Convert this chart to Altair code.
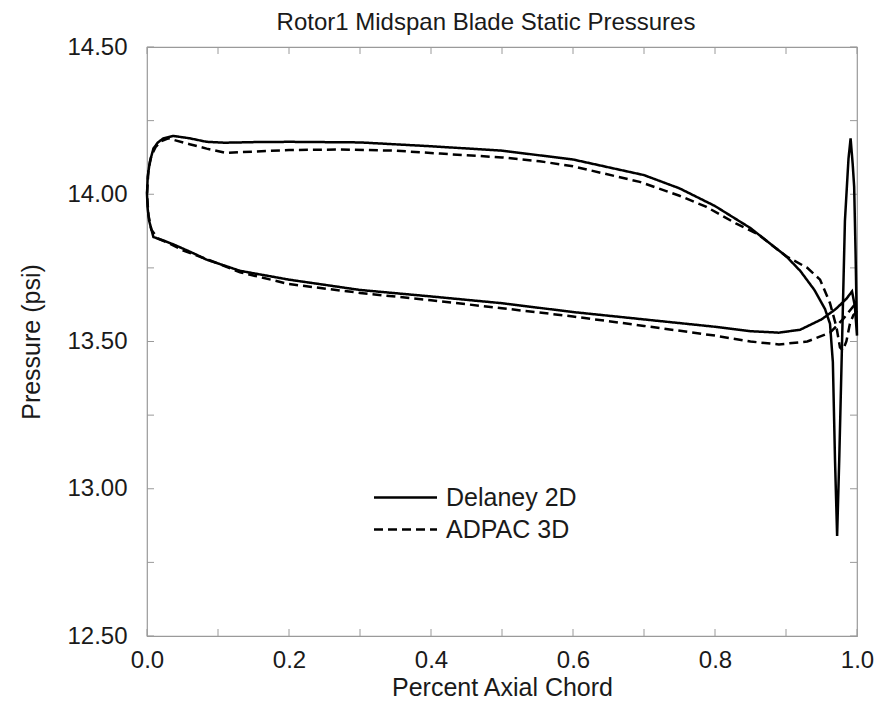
import altair as alt
import pandas as pd

# ---- data ----
chart_title = "Rotor1 Midspan Blade Static Pressures"
series_names = ["Delaney 2D", "ADPAC 3D"]

# Delaney 2D, upper (high pressure) surface from LE to TE incl. trailing-edge spike
del_up_x = [0.0, 0.001, 0.004, 0.009, 0.015, 0.023, 0.037, 0.06, 0.084, 0.11, 0.15, 0.2,
            0.3, 0.4, 0.5, 0.6, 0.7, 0.75, 0.8, 0.85, 0.9, 0.92, 0.94, 0.955, 0.962,
            0.966, 0.969, 0.972, 0.975, 0.978, 0.983, 0.988, 0.991, 0.994, 0.996, 0.998, 1.0]
del_up_y = [14.00, 14.06, 14.11, 14.155, 14.175, 14.19, 14.198, 14.19, 14.178, 14.175, 14.177, 14.178,
            14.176, 14.163, 14.148, 14.118, 14.065, 14.02, 13.96, 13.885, 13.79, 13.74, 13.675, 13.61, 13.56,
            13.43, 13.10, 12.84, 13.10, 13.40, 13.91, 14.12, 14.19, 14.10, 14.025, 13.80, 13.52]
# Delaney 2D, lower surface from LE to TE
del_lo_x = [0.0, 0.001, 0.003, 0.009, 0.023, 0.037, 0.065, 0.084, 0.131, 0.2, 0.3, 0.4, 0.5,
            0.6, 0.7, 0.8, 0.85, 0.89, 0.92, 0.95, 0.97, 0.985, 0.993, 0.997, 1.0]
del_lo_y = [14.00, 13.95, 13.91, 13.855, 13.843, 13.83, 13.80, 13.778, 13.74, 13.71, 13.675, 13.653, 13.63,
            13.60, 13.575, 13.55, 13.535, 13.53, 13.54, 13.575, 13.61, 13.645, 13.67, 13.62, 13.52]

# ADPAC 3D, upper surface
adp_up_x = [0.0, 0.002, 0.006, 0.012, 0.02, 0.03, 0.04, 0.06, 0.084, 0.112, 0.131, 0.2, 0.272,
            0.35, 0.413, 0.5, 0.553, 0.6, 0.694, 0.75, 0.788, 0.83, 0.86, 0.9, 0.93, 0.948,
            0.962, 0.971, 0.976, 0.98, 0.985, 0.99, 0.995, 1.0]
adp_up_y = [14.00, 14.08, 14.13, 14.16, 14.18, 14.19, 14.183, 14.17, 14.155, 14.14, 14.143, 14.15, 14.152,
            14.148, 14.138, 14.125, 14.112, 14.095, 14.042, 13.995, 13.957, 13.90, 13.865, 13.79, 13.75, 13.71,
            13.63, 13.55, 13.48, 13.47, 13.50, 13.56, 13.59, 13.60]
# ADPAC 3D, lower surface
adp_lo_x = [0.0, 0.002, 0.006, 0.015, 0.03, 0.05, 0.1, 0.131, 0.2, 0.3, 0.4, 0.5, 0.6, 0.7,
            0.8, 0.85, 0.89, 0.93, 0.962, 0.98, 0.995, 1.0]
adp_lo_y = [14.00, 13.93, 13.88, 13.85, 13.835, 13.81, 13.765, 13.735, 13.695, 13.665, 13.64, 13.613, 13.585, 13.553,
            13.52, 13.50, 13.49, 13.50, 13.53, 13.575, 13.62, 13.60]

x_tick_labels = [0.0, 0.2, 0.4, 0.6, 0.8, 1.0]
y_tick_labels = [12.5, 13.0, 13.5, 14.0, 14.5]
x_minor = [round(0.1 * i, 1) for i in range(11)]
y_minor = [12.5 + 0.25 * i for i in range(9)]

# ---- build closed loops: upper reversed (TE -> LE) then lower (LE -> TE) ----
rows = []
for name, ux, uy, lx, ly in [
    (series_names[0], del_up_x, del_up_y, del_lo_x, del_lo_y),
    (series_names[1], adp_up_x, adp_up_y, adp_lo_x, adp_lo_y),
]:
    px = list(reversed(ux)) + lx[1:]
    py = list(reversed(uy)) + ly[1:]
    for i, (a, b) in enumerate(zip(px, py)):
        rows.append({"series": name, "i": i, "x": a, "y": b})
df = pd.DataFrame(rows)

W, H = 710, 589
FONT = "Liberation Sans"
TXT = "#1a1a1a"

xs = alt.Scale(domain=[0, 1], nice=False, zero=False)
ys = alt.Scale(domain=[12.5, 14.5], nice=False, zero=False)

lines = alt.Chart(df).mark_line(color="black", strokeWidth=2.5, strokeCap="butt").encode(
    x=alt.X("x:Q", scale=xs, title="Percent Axial Chord",
            axis=alt.Axis(values=x_tick_labels, format=".1f", ticks=False, tickSize=0,
                          labelFlush=False, domain=False, grid=False, labelPadding=12,
                          titlePadding=3)),
    y=alt.Y("y:Q", scale=ys, title="Pressure (psi)",
            axis=alt.Axis(values=y_tick_labels, format=".2f", ticks=False, tickSize=0,
                          labelFlush=False, domain=False, grid=False, labelPadding=20,
                          titlePadding=22)),
    order=alt.Order("i:Q"),
    strokeDash=alt.StrokeDash(
        "series:N",
        scale=alt.Scale(domain=series_names, range=[[1, 0], [9, 5]]),
        legend=alt.Legend(title=None, orient="none", legendX=246, legendY=438,
                          symbolType="M-3,0L3,0", symbolSize=441, symbolStrokeWidth=2.5,
                          symbolStrokeColor="black", symbolFillColor="transparent",
                          labelFontSize=25, labelFont=FONT,
                          labelColor=TXT, labelOffset=28, rowPadding=6, padding=0),
    ),
)

tick_color = "#9a9a9a"
xt = pd.DataFrame({"t": x_minor})
yt = pd.DataFrame({"t": y_minor})
tb = alt.Chart(xt).mark_rule(color=tick_color, strokeWidth=1).encode(
    x=alt.X("t:Q", scale=xs), y=alt.value(H), y2=alt.value(H - 7))
tt = alt.Chart(xt).mark_rule(color=tick_color, strokeWidth=1).encode(
    x=alt.X("t:Q", scale=xs), y=alt.value(0), y2=alt.value(7))
tl = alt.Chart(yt).mark_rule(color=tick_color, strokeWidth=1).encode(
    y=alt.Y("t:Q", scale=ys), x=alt.value(0), x2=alt.value(7))
tr = alt.Chart(yt).mark_rule(color=tick_color, strokeWidth=1).encode(
    y=alt.Y("t:Q", scale=ys), x=alt.value(W), x2=alt.value(W - 7))

title_mark = alt.Chart(pd.DataFrame({"t": [chart_title]})).mark_text(
    font=FONT, fontSize=24, color=TXT, align="center", baseline="alphabetic"
).encode(text="t:N", x=alt.value(W / 2 - 16), y=alt.value(-17))

chart = alt.layer(tb, tt, tl, tr, lines, title_mark).properties(
    width=W, height=H,
    autosize=alt.AutoSizeParams(type="none"),
    padding={"left": 139, "top": 39, "right": 25, "bottom": 64},
).configure_view(stroke="#9a9a9a", strokeWidth=1.2).configure_axis(
    labelFont=FONT, titleFont=FONT, labelFontSize=24, titleFontSize=25,
    labelColor=TXT, titleColor=TXT, titleFontWeight="normal",
)

chart.save("out.html", embed_options={"renderer": "svg", "actions": False})
